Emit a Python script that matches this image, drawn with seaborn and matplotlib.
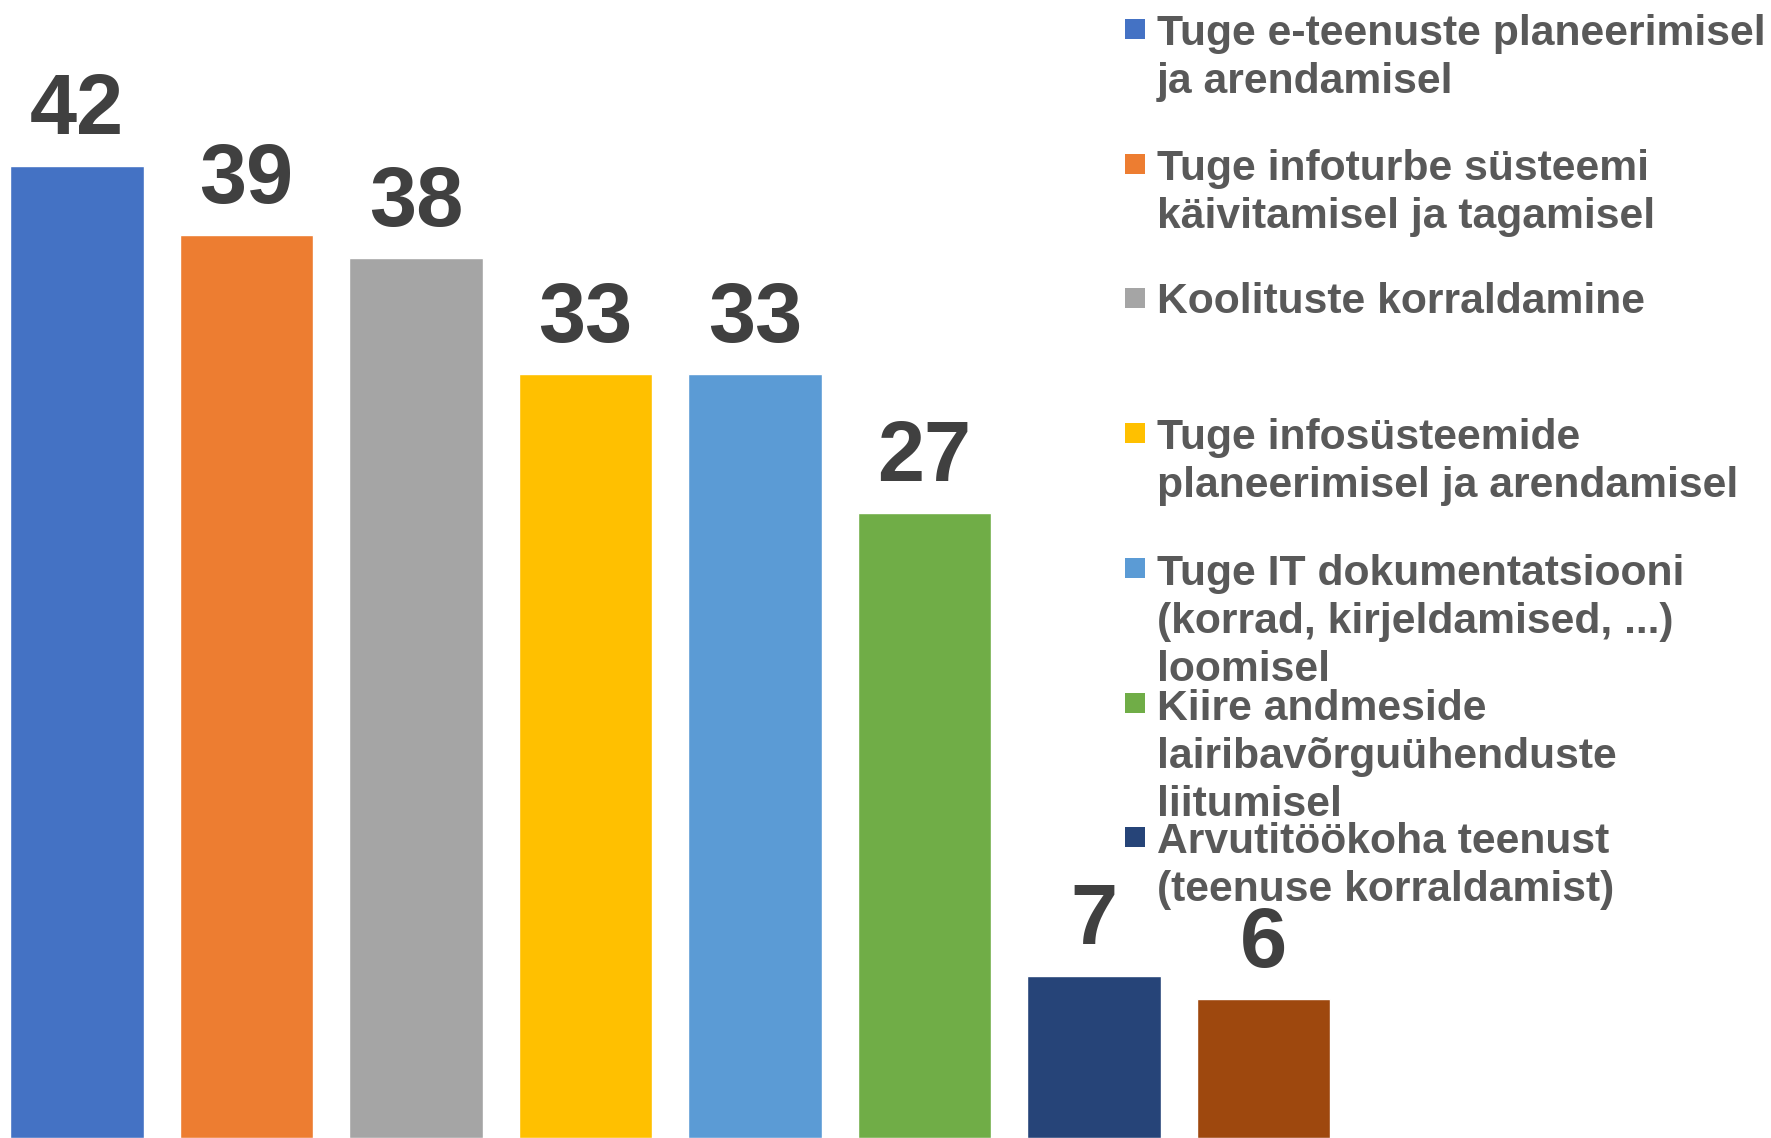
import matplotlib
matplotlib.use("Agg")
import matplotlib.pyplot as plt
from matplotlib.patches import Rectangle
import seaborn as sns
import pandas as pd

categories = [
    "Tuge e-teenuste planeerimisel\nja arendamisel",
    "Tuge infoturbe süsteemi\nkäivitamisel ja tagamisel",
    "Koolituste korraldamine",
    "Tuge infosüsteemide\nplaneerimisel ja arendamisel",
    "Tuge IT dokumentatsiooni\n(korrad, kirjeldamised, ...)\nloomisel",
    "Kiire andmeside\nlairibavõrguühenduste\nliitumisel",
    "Arvutitöökoha teenust\n(teenuse korraldamist)",
    "Muu",
]
values = [42, 39, 38, 33, 33, 27, 7, 6]
colors = ["#4472C4", "#ED7D31", "#A5A5A5", "#FFC000",
          "#5B9BD5", "#70AD47", "#264478", "#9E480E"]
legend_shown = 7  # the legend in the original is cut off after 7 entries

sns.set_theme(style="white")
plt.rcParams["font.family"] = ["Liberation Sans", "DejaVu Sans"]

W, H = 1771, 1138
fig = plt.figure(figsize=(W / 100, H / 100), dpi=100)
ax = fig.add_axes([0, 0, 1, 1])

df = pd.DataFrame({"cat": categories, "val": values})
sns.barplot(data=df, x="cat", y="val", hue="cat", palette=colors,
            order=categories, hue_order=categories, width=0.79,
            legend=False, saturation=1, ax=ax)

for cont in ax.containers:
    ax.bar_label(cont, fmt="%d", padding=10, fontsize=61,
                 fontweight="bold", color="#404040")

ax.set_xlim(-0.454, 9.994)
ax.set_ylim(0, 49.16)
ax.axis("off")

# manual legend with fixed slots
sq_x, sq_w = 1125, 20
txt_x = 1157
line_px = 49
for i in range(legend_shown):
    top = 19 + 134.7 * i
    fig.patches.append(Rectangle((sq_x / W, 1 - (top + sq_w) / H), sq_w / W, sq_w / H,
                                 transform=fig.transFigure, facecolor=colors[i],
                                 edgecolor="none"))
    n_lines = categories[i].count("\n") + 1
    baseline_last = top + 25 + (n_lines - 1) * line_px
    fig.text(txt_x / W, 1 - baseline_last / H, categories[i], fontsize=30.7,
             fontweight="bold", color="#595959", ha="left", va="baseline",
             linespacing=1.25)

fig.savefig("out.png", dpi=100)
